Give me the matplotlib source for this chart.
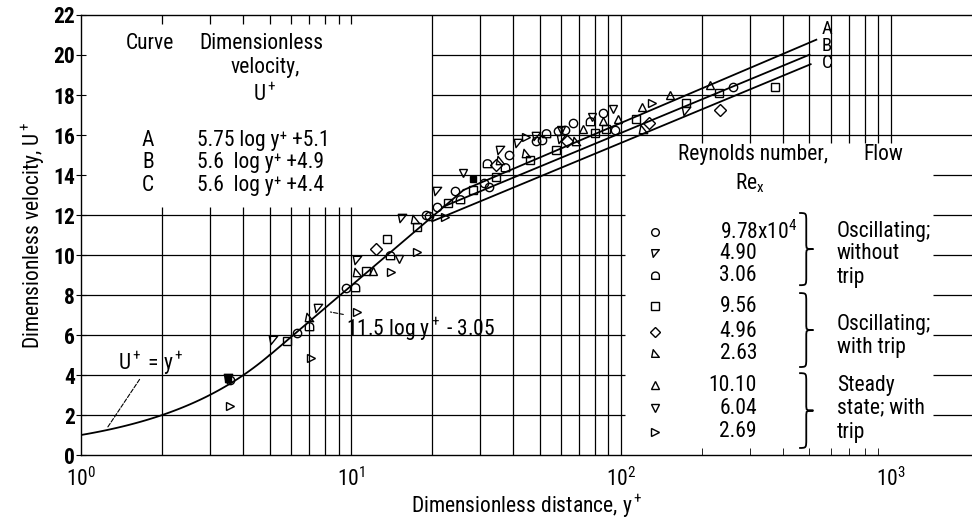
import numpy as np
import matplotlib
matplotlib.use("Agg")
import matplotlib.pyplot as plt
from matplotlib.path import Path
from matplotlib.patches import PathPatch
from matplotlib.ticker import FixedLocator, NullFormatter
from matplotlib import font_manager

names = {f.name for f in font_manager.fontManager.ttflist}
fams = [f for f in ['Liberation Sans Narrow', 'DejaVu Sans Condensed', 'Roboto Condensed',
                    'Open Sans Condensed', 'Noto Sans Condensed'] if f in names]
plt.rcParams['font.family'] = fams[:1] + ['DejaVu Sans']
plt.rcParams['mathtext.fontset'] = 'custom'
plt.rcParams['mathtext.rm'] = plt.rcParams['font.family'][0]
plt.rcParams['mathtext.it'] = plt.rcParams['font.family'][0]
FS = 15.5 if fams else 12

# ---- data (y+ , U+) ----
osc_978_x = [3.56, 6.31, 9.58, 19.0, 19.5, 20.9, 24.4, 31.2, 32.6, 38.6, 48.4, 50.9, 58.5, 62.1, 66.3, 86.0, 95.0, 261]
osc_978_y = [3.75, 6.1, 8.33, 12.0, 11.95, 12.4, 13.2, 13.6, 13.4, 15.0, 15.7, 15.75, 16.2, 16.25, 16.6, 17.1, 16.25, 18.4]

osc_490_x = [3.5, 5.14, 7.56, 10.5, 15.5, 20.9, 35.6, 41.5, 48.6, 60.2, 174]
osc_490_y = [3.85, 5.75, 7.35, 9.75, 11.87, 13.2, 15.25, 15.6, 15.95, 15.8, 17.2]

osc_306_x = [7.0, 10.4, 14.0, 25.3, 31.8, 37.1, 52.7, 76.9]
osc_306_y = [6.45, 8.38, 10.0, 12.8, 14.6, 14.4, 16.1, 16.7]

trip_956_x = [5.78, 11.4, 13.6, 17.6, 22.9, 28.3, 34.5, 46.0, 57.7, 80.3, 88.0, 114, 174, 231, 372]
trip_956_y = [5.7, 9.2, 10.8, 11.38, 12.6, 13.25, 13.9, 14.75, 15.25, 16.1, 16.3, 16.8, 17.6, 18.1, 18.4]

trip_496_x = [12.4, 34.6, 63.2, 127, 234]
trip_496_y = [10.3, 14.5, 15.7, 16.6, 17.25]

trip_263_x = [7.0, 10.5, 17.3, 35.6, 44.7, 68.1, 121]
trip_263_y = [6.9, 9.17, 11.8, 14.75, 15.1, 15.7, 16.3]

std_1010_x = [12.1, 72.2, 86.0, 97.7, 120, 152, 214]
std_1010_y = [9.2, 16.3, 16.7, 16.8, 17.4, 18.0, 18.5]

std_604_x = [15.1, 26.1, 60.2, 77.9, 93.4]
std_604_y = [9.78, 14.1, 16.25, 16.9, 17.3]

std_269_x = [3.58, 7.09, 10.5, 14.1, 17.6, 22.3, 44.7, 131]
std_269_y = [2.45, 4.85, 7.17, 9.17, 10.17, 11.9, 15.9, 17.6]

# solid blobs where symbols overlap
blob_x = [28.4, 3.5]
blob_y = [13.8, 3.8]

reynolds = ["9.78x10$^4$", "4.90", "3.06", "9.56", "4.96", "2.63", "10.10", "6.04", "2.69"]
flow_groups = [["Oscillating;", "without", "trip"], ["Oscillating;", "with trip"], ["Steady", "state; with", "trip"]]

# curve constants: U+ = a log y+ + b
curve_names = ["A", "B", "C"]
curve_a = [5.75, 5.6, 5.6]
curve_b = [5.1, 4.9, 4.4]
curve_txt = ["5.75 log y\u207a +5.1", "5.6  log y\u207a +4.9", "5.6  log y\u207a +4.4"]
buffer_a, buffer_b = 11.5, -3.05

# ---- markers ----
def tri(verts):
    return Path(verts + [verts[0]], [Path.MOVETO, Path.LINETO, Path.LINETO, Path.CLOSEPOLY])

m_tl = tri([(-1, 1), (1, 1), (-0.6, -1)])
m_bl = tri([(-1, -1), (1, -1), (-0.6, 1)])
th = np.linspace(0, np.pi, 12)
d_verts = [(-1, -1), (1, -1)] + [(np.cos(t), np.sin(t) * 0.9) for t in th] + [(-1, -1)]
m_dome = Path(d_verts)

series = [
    (osc_978_x, osc_978_y, 'o'),
    (osc_490_x, osc_490_y, m_tl),
    (osc_306_x, osc_306_y, m_dome),
    (trip_956_x, trip_956_y, 's'),
    (trip_496_x, trip_496_y, 'D'),
    (trip_263_x, trip_263_y, m_bl),
    (std_1010_x, std_1010_y, '^'),
    (std_604_x, std_604_y, 'v'),
    (std_269_x, std_269_y, '>'),
]

fig = plt.figure(figsize=(9.72, 5.19), dpi=100)
ax = fig.add_axes([0.0833, 0.1233, 0.9167, 0.8478])
ax.set_xscale('log')
ax.set_xlim(1, 2000)
ax.set_ylim(0, 22)

lw_grid = 0.9
# partial graph-paper grid
for d in [2, 3, 4, 5, 6, 7, 8, 9, 10]:
    ax.vlines(d, 0, 12.4, color='k', lw=lw_grid)
    ax.vlines(d, 21.55, 22, color='k', lw=lw_grid)
for d in [20, 30, 40, 50, 60, 70, 80, 90, 100]:
    ax.vlines(d, 0, 22, color='k', lw=lw_grid)
for d in [200, 300, 400, 500, 600, 700, 800, 900, 1000]:
    ax.vlines(d, 15.6, 22, color='k', lw=lw_grid)
for u in [2, 4, 6, 8, 10, 12]:
    ax.hlines(u, 1, 104, color='k', lw=lw_grid)
ax.hlines(14, 20, 104, color='k', lw=lw_grid)
for u in [16, 18, 20]:
    ax.hlines(u, 20, 2000, color='k', lw=lw_grid)
for u in [2, 4, 6, 8, 10, 12, 14]:
    ax.hlines(u, 1430, 2000, color='k', lw=lw_grid)

# ---- curves ----
yv = np.logspace(0, np.log10(5.0), 60)
ax.plot(yv, yv, 'k', lw=1.3)
y_cross = 10 ** ((curve_b[0] - buffer_b) / (buffer_a - curve_a[0]))
yv = np.logspace(np.log10(5.0), np.log10(y_cross), 40)
ax.plot(yv, buffer_a * np.log10(yv) + buffer_b, 'k', lw=1.3)
starts = [y_cross, 22, 20]
ends = [530, 500, 505]
for a, b, s, e in zip(curve_a, curve_b, starts, ends):
    yv = np.logspace(np.log10(s), np.log10(e), 40)
    ax.plot(yv, a * np.log10(yv) + b, 'k', lw=1.3)
for name, u in zip(curve_names, [21.3, 20.45, 19.6]):
    ax.text(555, u, name, fontsize=FS - 2, va='center', ha='left')

# ---- data points ----
for xs, ys, m in series:
    ax.plot(xs, ys, ls='none', marker=m, ms=6, mfc='none', mec='k', mew=1.0)
ax.plot(blob_x, blob_y, ls='none', marker='s', ms=5, mfc='k', mec='k')

# ---- annotations on the curves ----
ax.annotate("U$^+$ = y$^+$", xy=(1.25, 1.35), xytext=(1.37, 4.6), fontsize=FS,
            va='center', ha='left',
            arrowprops=dict(arrowstyle='-', ls='--', lw=0.8, color='k', shrinkA=0, shrinkB=0))
ax.annotate("11.5 log y$^+$ - 3.05", xy=(8.4, 7.15), xytext=(9.6, 6.3), fontsize=FS,
            va='center', ha='left',
            arrowprops=dict(arrowstyle='-', ls='--', lw=0.8, color='k', shrinkA=0, shrinkB=0))

# ---- equation table (top left) ----
T = ax.transAxes
ax.text(0.0774, 0.936, "Curve", transform=T, fontsize=FS, ha='center', va='center')
ax.text(0.203, 0.936, "Dimensionless", transform=T, fontsize=FS, ha='center', va='center')
ax.text(0.2065, 0.880, "velocity,", transform=T, fontsize=FS, ha='center', va='center')
ax.text(0.2065, 0.818, "U$^+$", transform=T, fontsize=FS, ha='center', va='center')
for name, txt, yy in zip(curve_names, curve_txt, [0.714, 0.664, 0.613]):
    ax.text(0.0752, yy, name, transform=T, fontsize=FS, ha='center', va='center')
    ax.text(0.130, yy, txt, transform=T, fontsize=FS, ha='left', va='center')

# ---- Reynolds number legend (right) ----
ax.text(0.754, 0.682, "Reynolds number,", transform=T, fontsize=FS, ha='center', va='center')
ax.text(0.751, 0.618, "Re$_\\mathrm{x}$", transform=T, fontsize=FS, ha='center', va='center')
ax.text(0.878, 0.682, "Flow", transform=T, fontsize=FS, ha='left', va='center')
rows = [0.5075, 0.458, 0.409, 0.3386, 0.280, 0.231, 0.159, 0.106, 0.053]
for (xs, ys, m), label, yy in zip(series, reynolds, rows):
    ax.plot([0.644], [yy], transform=T, ls='none', marker=m, ms=5.5, mfc='none', mec='k', mew=1.0)
    if 'x10' in label:
        ax.text(0.717, yy, label, transform=T, fontsize=FS, ha='left', va='center')
    else:
        ax.text(0.7587, yy, label, transform=T, fontsize=FS, ha='right', va='center')

def brace(x, y0, y1, w):
    ym = (y0 + y1) / 2
    h = y1 - y0
    xm = x + w * 0.5
    verts = [(x, y1), (xm, y1), (xm, y1), (xm, y1 - h * 0.12),
             (xm, ym + h * 0.08),
             (xm, ym), (xm, ym), (x + w, ym),
             (xm, ym), (xm, ym), (xm, ym - h * 0.08),
             (xm, y0 + h * 0.12),
             (xm, y0), (xm, y0), (x, y0)]
    codes = [Path.MOVETO, Path.CURVE4, Path.CURVE4, Path.CURVE4, Path.LINETO,
             Path.CURVE4, Path.CURVE4, Path.CURVE4, Path.CURVE4, Path.CURVE4, Path.CURVE4,
             Path.LINETO, Path.CURVE4, Path.CURVE4, Path.CURVE4]
    ax.add_patch(PathPatch(Path(verts, codes), transform=T, fc='none', ec='k', lw=1.3, clip_on=False))

brace(0.806, 0.386, 0.550, 0.016)
brace(0.806, 0.200, 0.368, 0.016)
brace(0.806, 0.016, 0.186, 0.016)

flow_rows = [[0.507, 0.459, 0.4045], [0.2955, 0.245], [0.159, 0.107, 0.052]]
for lines, ys in zip(flow_groups, flow_rows):
    for txt, yy in zip(lines, ys):
        ax.text(0.8485, yy, txt, transform=T, fontsize=FS, ha='left', va='center')

# ---- axes, ticks, labels ----
ax.spines['right'].set_visible(False)
for s in ['left', 'bottom', 'top']:
    ax.spines[s].set_linewidth(1.0)
ax.set_yticks(range(0, 23, 2))
ax.xaxis.set_major_locator(FixedLocator([1, 10, 100, 1000]))
minors = [m * 10 ** k for k in range(0, 4) for m in range(2, 10)]
ax.xaxis.set_minor_locator(FixedLocator([v for v in minors if v < 2000]))
ax.xaxis.set_minor_formatter(NullFormatter())
ax.tick_params(axis='x', which='both', direction='in', top=False, labelsize=FS, pad=9)
ax.tick_params(axis='x', which='minor', length=5)
ax.tick_params(axis='x', which='major', length=0)
ax.tick_params(axis='y', direction='inout', length=7, labelsize=FS, pad=1)
for lab in ax.get_yticklabels():
    lab.set_fontweight('bold')
ax.set_xlabel("Dimensionless distance, y$^+$", fontsize=FS, labelpad=1)
ax.set_ylabel("Dimensionless velocity, U$^+$", fontsize=FS, labelpad=4)

fig.savefig("out.png", dpi=100)
